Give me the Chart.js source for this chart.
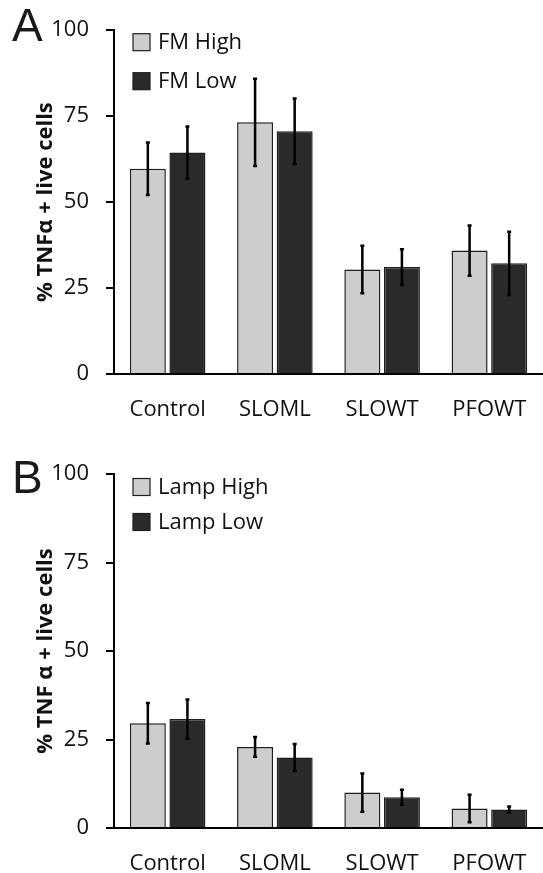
<!DOCTYPE html>
<html>
<head>
<meta charset="utf-8">
<script src="https://cdn.jsdelivr.net/npm/chart.js@4.4.1/dist/chart.umd.min.js"></script>
<style>
  html, body { margin: 0; padding: 0; background: #fff; }
  body { width: 543px; height: 873px; position: relative; overflow: hidden; }
  .panel { position: absolute; left: 0; width: 543px; }
  .letter { position: absolute; font-family: "Liberation Sans", Arial, sans-serif; font-size: 46px; color: #1a1a1a; line-height: 1; }
</style>
</head>
<body>
<div class="panel" style="top:0;height:436px;"><canvas id="cA" width="543" height="436"></canvas></div>
<div class="panel" style="top:436px;height:437px;"><canvas id="cB" width="543" height="437"></canvas></div>
<div class="letter" style="left:12px;top:2px;">A</div>
<div class="letter" style="left:12px;top:454px;">B</div>
<script>
const categories = ['Control', 'SLOML', 'SLOWT', 'PFOWT'];
const yTicks = [0, 25, 50, 75, 100];

const fmHigh = [59.7, 73.2, 30.4, 35.9];
const fmHighErr = [7.6, 12.7, 6.9, 7.3];
const fmLow = [64.4, 70.6, 31.1, 32.2];
const fmLowErr = [7.6, 9.5, 5.2, 9.2];

const lampHigh = [29.6, 22.9, 10.0, 5.5];
const lampHighErr = [5.7, 2.8, 5.4, 3.9];
const lampLow = [30.8, 19.9, 8.7, 5.2];
const lampLowErr = [5.5, 3.8, 2.1, 0.9];

const LIGHT = '#cdcdcd';
const DARK = '#2a2a2a';
const EDGE = '#1e1e1e';
const TXT = '#111111';
const FONT = "'Open Sans', sans-serif";

const errorBars = {
  id: 'errorBars',
  afterDatasetsDraw(chart) {
    const ctx = chart.ctx;
    const y = chart.scales.y;
    ctx.save();
    ctx.strokeStyle = '#000';
    ctx.lineWidth = 2.5;
    chart.data.datasets.forEach((ds, i) => {
      const meta = chart.getDatasetMeta(i);
      meta.data.forEach((el, j) => {
        const v = ds.data[j], e = ds.err[j];
        const t = y.getPixelForValue(v + e), b = y.getPixelForValue(v - e);
        ctx.beginPath();
        ctx.moveTo(el.x, t); ctx.lineTo(el.x, b);
        ctx.moveTo(el.x - 2, t); ctx.lineTo(el.x + 2, t);
        ctx.moveTo(el.x - 2, b); ctx.lineTo(el.x + 2, b);
        ctx.stroke();
      });
    });
    ctx.restore();
  }
};

const boxLegend = {
  id: 'boxLegend',
  afterDraw(chart, args, opts) {
    const ctx = chart.ctx;
    const a = chart.chartArea;
    ctx.save();
    ctx.font = '22px ' + FONT;
    ctx.textBaseline = 'middle';
    ctx.textAlign = 'left';
    chart.data.datasets.forEach((ds, i) => {
      const cy = a.top + opts.firstY + i * opts.step;
      const bx = a.left + 19;
      ctx.fillStyle = ds.backgroundColor;
      ctx.fillRect(bx, cy - 8.5, 17, 17);
      ctx.strokeStyle = EDGE;
      ctx.lineWidth = 1.2;
      ctx.strokeRect(bx, cy - 8.5, 17, 17);
      ctx.fillStyle = TXT;
      ctx.fillText(ds.label, bx + 25, cy + 1);
    });
    ctx.restore();
  }
};

function makeChart(id, labels, highLabel, lowLabel, high, highErr, low, lowErr, title, padTop, xHeight, legFirst, legStep) {
  return new Chart(document.getElementById(id), {
    type: 'bar',
    data: {
      labels: labels,
      datasets: [
        { label: highLabel, data: high, err: highErr, backgroundColor: LIGHT, borderColor: EDGE, borderWidth: 1.5,
          categoryPercentage: 0.738, barPercentage: 0.91 },
        { label: lowLabel, data: low, err: lowErr, backgroundColor: DARK, borderColor: EDGE, borderWidth: 1.5,
          categoryPercentage: 0.738, barPercentage: 0.91 }
      ]
    },
    options: {
      responsive: false,
      animation: false,
      layout: { autoPadding: false, padding: { top: padTop, left: 0, right: 0, bottom: 0 } },
      plugins: {
        legend: { display: false },
        tooltip: { enabled: false },
        boxLegend: { firstY: legFirst, step: legStep }
      },
      scales: {
        x: {
          grid: { display: false },
          border: { display: true, color: '#000', width: 2 },
          ticks: { color: TXT, font: { family: FONT, size: 22 }, padding: 15 },
          afterFit: s => { s.height = xHeight; }
        },
        y: {
          min: 0, max: 100,
          afterBuildTicks: s => { s.ticks = yTicks.map(v => ({ value: v })); },
          grid: { display: true, drawOnChartArea: false, drawTicks: true, tickLength: 8, color: '#000', lineWidth: 2 },
          border: { display: true, color: '#000', width: 2 },
          ticks: { color: TXT, font: { family: FONT, size: 22 }, padding: 17 },
          title: { display: true, text: title, color: TXT, font: { family: FONT, size: 22, weight: 'bold' }, padding: { top: 33, bottom: 0 } },
          afterFit: s => { s.width = 114; }
        }
      }
    },
    plugins: [errorBars, boxLegend]
  });
}

makeChart('cA', categories, 'FM High', 'FM Low', fmHigh, fmHighErr, fmLow, fmLowErr,
  '% TNFα + live cells', 20.4, 62, 12, 39);
makeChart('cB', categories, 'Lamp High', 'Lamp Low', lampHigh, lampHighErr, lampLow, lampLowErr,
  '% TNF α + live cells', 38, 45, 13, 35);
</script>
</body>
</html>
